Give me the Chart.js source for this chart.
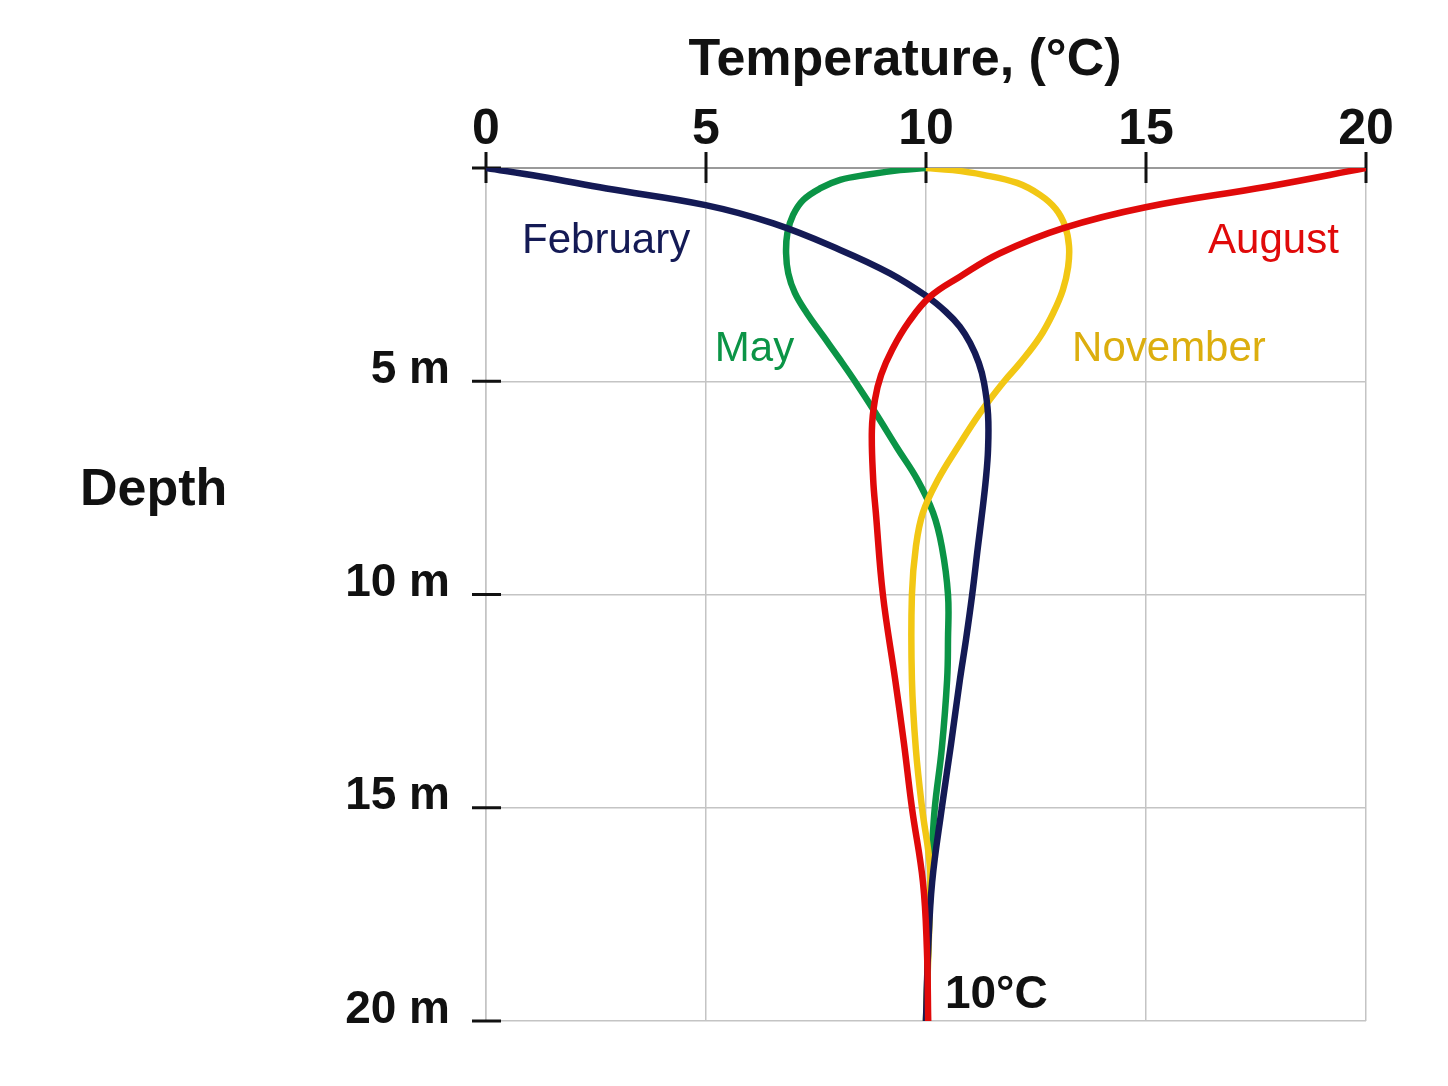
<!DOCTYPE html>
<html>
<head>
<meta charset="utf-8">
<script src="https://cdn.jsdelivr.net/npm/chart.js@4.4.1/dist/chart.umd.min.js"></script>
<style>
  html, body { margin: 0; padding: 0; background: #fff; }
  #wrap { width: 1448px; height: 1086px; position: relative; }
</style>
</head>
<body>
<div id="wrap"><canvas id="chart"></canvas></div>
<script>
// temperature (°C) vs depth (m)
const febTemp  = [0, 1.23, 2.74, 4.99, 6.53, 8.05, 9.18, 10.02, 10.45, 10.77, 11.0, 11.2, 11.32, 11.41, 11.41, 11.36, 11.27, 11.18, 11.05, 10.91, 10.77, 10.57, 10.36, 10.14, 10.05, 10.0];
const febDepth = [0, 0.2, 0.48, 0.87, 1.3, 1.92, 2.47, 3.01, 3.37, 3.72, 4.1, 4.57, 5.04, 5.78, 6.6, 7.3, 8.13, 8.88, 10, 11.05, 12, 13.5, 15, 16.74, 18.3, 20];

const mayTemp  = [10, 9.41, 8.65, 8.05, 7.59, 7.21, 6.98, 6.85, 6.82, 6.87, 7.02, 7.29, 7.67, 8.05, 8.41, 8.85, 9.35, 9.8, 10.16, 10.36, 10.5, 10.5, 10.48, 10.36, 10.2, 10.14, 10.09, 10.05, 10.0];
const mayDepth = [0, 0.05, 0.16, 0.28, 0.48, 0.75, 1.1, 1.52, 2.0, 2.47, 2.93, 3.4, 3.95, 4.5, 5.04, 5.74, 6.57, 7.3, 8.08, 8.88, 10, 11.05, 12, 13.6, 15, 15.97, 17.14, 18.3, 20];

const augTemp  = [20, 17.74, 14.99, 13.12, 11.68, 10.77, 10.09, 9.61, 9.23, 8.98, 8.84, 8.77, 8.8, 8.86, 9.02, 9.3, 9.5, 9.68, 9.93, 10.02, 10.05];
const augDepth = [0, 0.44, 0.92, 1.41, 2.0, 2.55, 3.02, 3.61, 4.26, 4.85, 5.43, 6.14, 7.31, 8.08, 10, 12, 13.5, 15, 16.74, 18.31, 20];

const novTemp  = [10, 10.61, 11.3, 12.07, 12.59, 12.95, 13.16, 13.25, 13.23, 13.11, 12.89, 12.59, 12.14, 11.77, 11.23, 10.73, 10.27, 9.93, 9.77, 9.68, 9.68, 9.77, 9.91, 10.09, 10.09, 10.05, 10.0];
const novDepth = [0, 0.05, 0.16, 0.35, 0.63, 0.96, 1.36, 1.83, 2.32, 2.86, 3.4, 3.96, 4.57, 5.01, 5.74, 6.53, 7.31, 8.08, 8.88, 10, 12, 13.63, 15, 16.37, 17.14, 18.55, 20];

const tempTicks  = [0, 5, 10, 15, 20];
const depthTicks = [0, 5, 10, 15, 20];

const FONT = "'Liberation Sans', Arial, Helvetica, sans-serif";

const toPoints = (temps, depths) => temps.map((t, i) => ({ x: t, y: depths[i] }));

// black tick marks crossing the axes
const tickMarks = {
  id: 'tickMarks',
  beforeDatasetsDraw(chart) {
    const { ctx, chartArea, scales } = chart;
    ctx.save();
    ctx.strokeStyle = '#111';
    ctx.lineWidth = 3;
    tempTicks.forEach(v => {
      const px = scales.x.getPixelForValue(v);
      ctx.beginPath();
      ctx.moveTo(px, chartArea.top - 16);
      ctx.lineTo(px, chartArea.top + 15);
      ctx.stroke();
    });
    depthTicks.forEach(v => {
      const py = scales.y.getPixelForValue(v);
      ctx.beginPath();
      ctx.moveTo(chartArea.left - 14, py);
      ctx.lineTo(chartArea.left + 15, py);
      ctx.stroke();
    });
    ctx.restore();
  }
};

// title, month names, "Depth" and the 10°C note
const labels = {
  id: 'labels',
  afterDatasetsDraw(chart) {
    const { ctx, scales: { x, y } } = chart;
    ctx.save();
    ctx.textBaseline = 'alphabetic';
    ctx.textAlign = 'left';
    ctx.font = `42px ${FONT}`;
    const put = (text, color, t, d) => {
      ctx.fillStyle = color;
      ctx.fillText(text, x.getPixelForValue(t), y.getPixelForValue(d));
    };
    put('February', '#141a55', 0.82, 1.99);
    put('May', '#0b9446', 5.2, 4.52);
    put('November', '#dcae0e', 13.32, 4.52);
    put('August', '#e00a0a', 16.41, 1.99);

    ctx.font = `bold 46px ${FONT}`;
    put('10°C', '#111', 10.43, 19.7);

    ctx.fillStyle = '#111';
    ctx.font = `bold 52px ${FONT}`;
    ctx.fillText('Depth', 80, 505);
    ctx.textAlign = 'center';
    ctx.fillText('Temperature, (°C)', 905, 75);
    ctx.restore();
  }
};

new Chart(document.getElementById('chart'), {
  type: 'line',
  data: {
    datasets: [
      { label: 'February', data: toPoints(febTemp, febDepth), borderColor: '#141a55', order: 1 },
      { label: 'May', data: toPoints(mayTemp, mayDepth), borderColor: '#0b9446', order: 3 },
      { label: 'August', data: toPoints(augTemp, augDepth), borderColor: '#e00a0a', order: 0 },
      { label: 'November', data: toPoints(novTemp, novDepth), borderColor: '#f2c714', order: 2 }
    ].map(ds => Object.assign(ds, {
      borderWidth: 6.5,
      pointRadius: 0,
      tension: 0.4,
      capBezierPoints: false,
      fill: false
    }))
  },
  options: {
    indexAxis: 'y',
    responsive: true,
    maintainAspectRatio: false,
    animation: false,
    layout: { padding: { left: 0, top: 0, right: 82, bottom: 65 } },
    plugins: {
      legend: { display: false },
      tooltip: { enabled: false }
    },
    scales: {
      x: {
        type: 'linear',
        position: 'top',
        min: 0,
        max: 20,
        afterBuildTicks: s => { s.ticks = tempTicks.map(v => ({ value: v })); },
        afterFit: s => { s.height = 168; },
        ticks: {
          padding: 8,
          color: '#111',
          font: { family: FONT, size: 50, weight: 'bold' }
        },
        grid: { color: '#c4c4c4', lineWidth: 1.5, drawTicks: false },
        border: { color: '#9a9a9a', width: 2 }
      },
      y: {
        type: 'linear',
        position: 'left',
        reverse: true,
        min: 0,
        max: 20,
        afterBuildTicks: s => { s.ticks = depthTicks.map(v => ({ value: v })); },
        afterFit: s => { s.width = 486; },
        ticks: {
          padding: 36,
          labelOffset: -11,
          color: '#111',
          font: { family: FONT, size: 46, weight: 'bold' },
          callback: v => (v === 0 ? '' : v + ' m')
        },
        grid: { color: '#c4c4c4', lineWidth: 1.5, drawTicks: false },
        border: { color: '#c4c4c4', width: 1.5 }
      }
    }
  },
  plugins: [tickMarks, labels]
});
</script>
</body>
</html>
